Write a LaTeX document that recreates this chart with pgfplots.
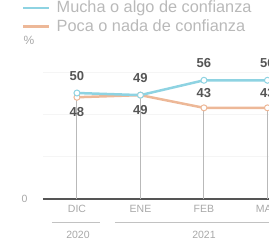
\documentclass[border=0pt]{standalone}
\usepackage{pgfplots}
\pgfplotsset{compat=1.18}
\usepackage{fontspec}
\setmainfont{Liberation Sans}
\definecolor{cblue}{HTML}{8ED3E2}
\definecolor{corange}{HTML}{EDB898}
\definecolor{lblgray}{HTML}{555555}
\definecolor{txtgray}{HTML}{A8A8A8}
\begin{document}
\begin{tikzpicture}[x=1pt,y=1pt]
\useasboundingbox (0,0) rectangle (269,243);
\clip (0,0) rectangle (269,243);
\begin{axis}[
  scale only axis, width=256.2pt, height=137.8pt,
  at={(43pt,44pt)}, anchor=south west,
  xmin=-0.535, xmax=3.5, ymin=0, ymax=65,
  /pgf/number format/assume math mode=true,
  axis x line=bottom, axis y line=left,
  axis line style={-},
  x axis line style={line width=2pt, draw=lblgray},
  y axis line style={draw=none},
  xtick={0,1,2,3}, xticklabels={DIC,ENE,FEB,MAR},
  ytick={0},
  major tick length=0pt,
  tick style={draw=none},
  x tick label style={font=\fontsize{10.5}{12}\selectfont, text=txtgray, yshift=-3pt},
  y tick label style={font=\fontsize{10.5}{12}\selectfont, text=txtgray, xshift=-12pt},
  extra y ticks={20,40,60}, extra y tick labels={},
  extra y tick style={grid=major, major grid style={gray!8, line width=0.6pt}},
  legend image code/.code={\draw[#1] (0pt,0pt) -- (26pt,0pt);},
  legend style={at={(axis description cs:-0.082,1.452)}, anchor=north west,
    draw=none, fill=none, inner sep=0pt, row sep=1.5pt,
    font=\fontsize{16.3}{17}\selectfont, text=txtgray!80, cells={anchor=west},
    nodes={inner xsep=6pt}},
  clip=false,
]
\addlegendimage{cblue, line width=2.5pt}
\addlegendentry{Mucha o algo de confianza}
\addlegendimage{corange, line width=2.5pt}
\addlegendentry{Poca o nada de confianza}
\addplot[ycomb, draw=gray!55, line width=1pt, mark=none, forget plot] coordinates {(0,48)(1,49)(2,43)(3,43)};
\addplot[corange, line width=2.5pt, mark=*, mark size=3pt, mark options={fill=white, line width=1pt}, forget plot] coordinates {(0,48)(1,49)(2,43)(3,43)};
\addplot[draw=none, mark=none, forget plot, nodes near coords,
  every node near coord/.style={font=\bfseries\fontsize{13}{13}\selectfont, text=lblgray, anchor=north, yshift=-7pt}]
  coordinates {(0,48)(1,49)};
\addplot[draw=none, mark=none, forget plot, nodes near coords,
  every node near coord/.style={font=\bfseries\fontsize{13}{13}\selectfont, text=lblgray, anchor=south, yshift=7pt}]
  coordinates {(2,43)(3,43)};
\addplot[cblue, line width=2.5pt, mark=*, mark size=3pt, mark options={fill=white, line width=1pt}, forget plot,
  nodes near coords,
  every node near coord/.style={font=\bfseries\fontsize{13}{13}\selectfont, text=lblgray, anchor=south, yshift=9pt}]
  coordinates {(0,50)(1,49)(2,56)(3,56)};
\end{axis}
\draw[txtgray!70, line width=0.7pt] (52,21) -- (100,21);
\draw[txtgray!70, line width=0.7pt] (115,21) -- (269,21);
\node[text=txtgray, font=\fontsize{10.5}{12}\selectfont] at (78,8) {2020};
\node[text=txtgray, font=\fontsize{10.5}{12}\selectfont] at (204,8) {2021};
\node[text=txtgray, font=\fontsize{12}{12}\selectfont] at (29,203) {\%};
\end{tikzpicture}
\end{document}
